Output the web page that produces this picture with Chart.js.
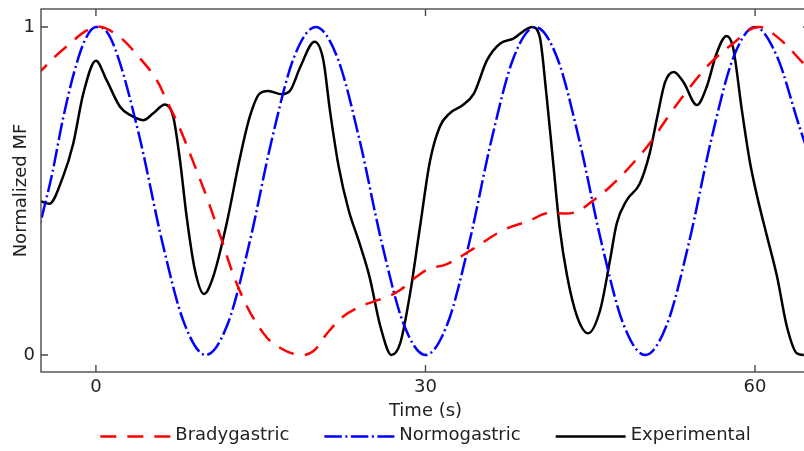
<!DOCTYPE html>
<html>
<head>
<meta charset="utf-8">
<title>Normalized MF</title>
<script src="https://cdn.jsdelivr.net/npm/chart.js@4.4.1/dist/chart.umd.min.js"></script>
<style>
  html, body { margin: 0; padding: 0; background: #fff; }
  #wrap { width: 804px; height: 451px; overflow: hidden; }
</style>
</head>
<body>
<div id="wrap"><canvas id="mfChart" width="851" height="451"></canvas></div>
<script>
// ================= DATA =================
const xTicks = [0, 30, 60];
const yTicks = [0, 1];

// Bradygastric (red dashed)
const bradyTime = [-5.5, -2.7, 0, 1.9, 4.0, 5.5, 6.4, 7.65, 8.9, 10.1, 11.3, 13.1, 15.2, 16.75, 18.6, 19.8,
  21.0, 22.5, 24.0, 25.2, 26.5, 27.7, 29.2, 30.4, 31.9, 34.4, 37.1, 39.5, 41.0, 43.5, 45.3, 46.8,
  48.6, 50.4, 52.3, 54.1, 55.9, 58.0, 60.2, 62.0, 64.4, 65.5];
const bradyMF = [0.85, 0.94, 1.0, 0.976, 0.905, 0.84, 0.778, 0.69, 0.585, 0.48, 0.365, 0.195, 0.068, 0.022, 0.0, 0.012,
  0.064, 0.117, 0.147, 0.162, 0.177, 0.198, 0.239, 0.264, 0.276, 0.325, 0.381, 0.41, 0.432, 0.434, 0.472, 0.513,
  0.574, 0.645, 0.737, 0.818, 0.889, 0.95, 1.0, 0.97, 0.889, 0.85];

// Normogastric (blue dash-dot)
const normoTime = [-5.5, -5, -4, -3, -2, -1, 0, 1, 2, 4, 6, 8, 10, 12, 14, 16, 18, 20, 22, 24, 26, 28, 30,
  32, 34, 36, 38, 40, 42, 44, 46, 48, 50, 52, 54, 56, 58, 60, 62, 64, 65.5];
const normoMF = [0.34, 0.41, 0.55, 0.72, 0.86, 0.96, 1.0, 0.985, 0.91, 0.66, 0.35, 0.10, 0.0, 0.095, 0.345, 0.655, 0.905, 1.0, 0.905, 0.655, 0.345, 0.095, 0.0,
  0.095, 0.345, 0.655, 0.905, 1.0, 0.905, 0.655, 0.345, 0.095, 0.0, 0.095, 0.345, 0.655, 0.905, 1.0, 0.91, 0.70, 0.55];

// Experimental (black solid)
const expTime = [-5.5, -5.1, -4.25, -3.0, -2.07, -1.15, 0, 0.97, 2.19, 3.1, 4.31, 5.22, 6.28, 7.04, 7.65, 8.26,
  9.01, 9.83, 10.68, 11.9, 13.1, 14.0, 14.9, 15.7, 16.9, 17.7, 18.6, 19.9, 20.7, 21.3, 22.1, 23.0,
  24.0, 24.9, 25.9, 26.9, 27.7, 28.6, 29.5, 30.4, 31.3, 32.2, 33.4, 34.4, 35.6, 36.8, 38.0, 39.7,
  40.4, 41.0, 41.6, 42.2, 42.9, 43.8, 44.8, 45.9, 46.8, 47.4, 48.3, 49.5, 50.4, 51.1, 51.8, 52.6,
  53.5, 54.7, 55.6, 56.5, 57.4, 58.0, 58.8, 59.5, 60.2, 61.1, 62.0, 62.9, 63.8, 64.4, 65.5];
const expMF = [0.47, 0.469, 0.461, 0.543, 0.644, 0.797, 0.897, 0.838, 0.757, 0.732, 0.716, 0.737, 0.764, 0.726, 0.594, 0.421,
  0.259, 0.186, 0.239, 0.401, 0.60, 0.726, 0.797, 0.805, 0.795, 0.807, 0.878, 0.955, 0.899, 0.746, 0.574, 0.442,
  0.34, 0.239, 0.086, 0.0, 0.036, 0.188, 0.391, 0.59, 0.696, 0.737, 0.762, 0.797, 0.899, 0.95, 0.965, 1.0,
  0.97, 0.797, 0.594, 0.391, 0.239, 0.117, 0.066, 0.137, 0.29, 0.40, 0.471, 0.522, 0.614, 0.726, 0.831, 0.863,
  0.831, 0.762, 0.818, 0.92, 0.973, 0.937, 0.746, 0.594, 0.482, 0.36, 0.239, 0.086, 0.005, 0.0, 0.03];

// ================= HELPERS =================
const toPoints = (t, v) => t.map((x, i) => ({ x: x, y: v[i] }));

// frame box, inward ticks and a matplotlib-like legend
const framePlugin = {
  id: 'frame',
  afterDraw(chart) {
    const { ctx, chartArea: a, scales: { x, y } } = chart;
    ctx.save();
    ctx.strokeStyle = '#4a4a4a';
    ctx.lineWidth = 1.4;
    ctx.strokeRect(a.left, a.top, a.right - a.left, a.bottom - a.top);

    ctx.beginPath();
    xTicks.forEach(v => {
      const px = x.getPixelForValue(v);
      ctx.moveTo(px, a.bottom); ctx.lineTo(px, a.bottom - 7);
      ctx.moveTo(px, a.top); ctx.lineTo(px, a.top + 7);
    });
    yTicks.forEach(v => {
      const py = y.getPixelForValue(v);
      ctx.moveTo(a.left, py); ctx.lineTo(a.left + 7, py);
      ctx.moveTo(a.right, py); ctx.lineTo(a.right - 7, py);
    });
    ctx.stroke();

    // Legend
    const legendY = 435, lineLen = 70, textGap = 5, itemGap = 35;
    ctx.font = "18px 'DejaVu Sans'";
    const items = chart.data.datasets.map(ds => ({ ds: ds, w: ctx.measureText(ds.label).width }));
    const total = items.reduce((s, it) => s + lineLen + textGap + it.w, 0) + itemGap * (items.length - 1);
    let lx = (a.left + a.right) / 2 - total / 2;
    items.forEach(it => {
      ctx.strokeStyle = it.ds.borderColor;
      ctx.lineWidth = it.ds.borderWidth;
      ctx.setLineDash(it.ds.borderDash || []);
      ctx.beginPath();
      ctx.moveTo(lx, legendY + 1.5);
      ctx.lineTo(lx + lineLen, legendY + 1.5);
      ctx.stroke();
      ctx.setLineDash([]);
      ctx.fillStyle = '#222';
      ctx.textBaseline = 'middle';
      ctx.textAlign = 'left';
      ctx.fillText(it.ds.label, lx + lineLen + textGap, legendY);
      lx += lineLen + textGap + it.w + itemGap;
    });
    ctx.restore();
  }
};

// ================= CHART =================
Chart.defaults.font.family = "'DejaVu Sans', sans-serif";
Chart.defaults.font.size = 18;
Chart.defaults.color = '#222';

const ctx = document.getElementById('mfChart').getContext('2d');
new Chart(ctx, {
  type: 'line',
  data: {
    datasets: [
      { label: 'Bradygastric', data: toPoints(bradyTime, bradyMF), borderColor: '#ff0000', borderWidth: 2.5,
        borderDash: [16, 11], cubicInterpolationMode: 'default', tension: 0.4 },
      { label: 'Normogastric', data: toPoints(normoTime, normoMF), borderColor: '#0000ff', borderWidth: 2.5,
        borderDash: [17.5, 3.5, 2, 3.5] },
      { label: 'Experimental', data: toPoints(expTime, expMF), borderColor: '#000000', borderWidth: 2.5 }
    ]
  },
  options: {
    responsive: false,
    animation: false,
    elements: {
      point: { radius: 0 },
      line: { cubicInterpolationMode: 'monotone', fill: false }
    },
    layout: { padding: { top: 9, right: 41, bottom: 29, left: 0 } },
    plugins: { legend: { display: false }, tooltip: { enabled: false } },
    scales: {
      x: {
        type: 'linear', min: -5, max: 65,
        grid: { display: false, drawTicks: false }, border: { display: false },
        afterBuildTicks: s => { s.ticks = xTicks.map(v => ({ value: v })); },
        afterFit: s => { s.height = 50; s.paddingLeft = 0; s.paddingRight = 0; },
        ticks: { padding: 5 },
        title: { display: true, text: 'Time (s)', padding: { top: 0, bottom: 0 } }
      },
      y: {
        min: -0.052, max: 1.055,
        grid: { display: false, drawTicks: false }, border: { display: false },
        afterBuildTicks: s => { s.ticks = yTicks.map(v => ({ value: v })); },
        afterFit: s => { s.width = 41; s.paddingTop = 0; s.paddingBottom = 0; },
        ticks: { padding: 6 },
        title: { display: true, text: 'Normalized MF', padding: { top: 11, bottom: 0 } }
      }
    }
  },
  plugins: [framePlugin]
});
</script>
</body>
</html>
